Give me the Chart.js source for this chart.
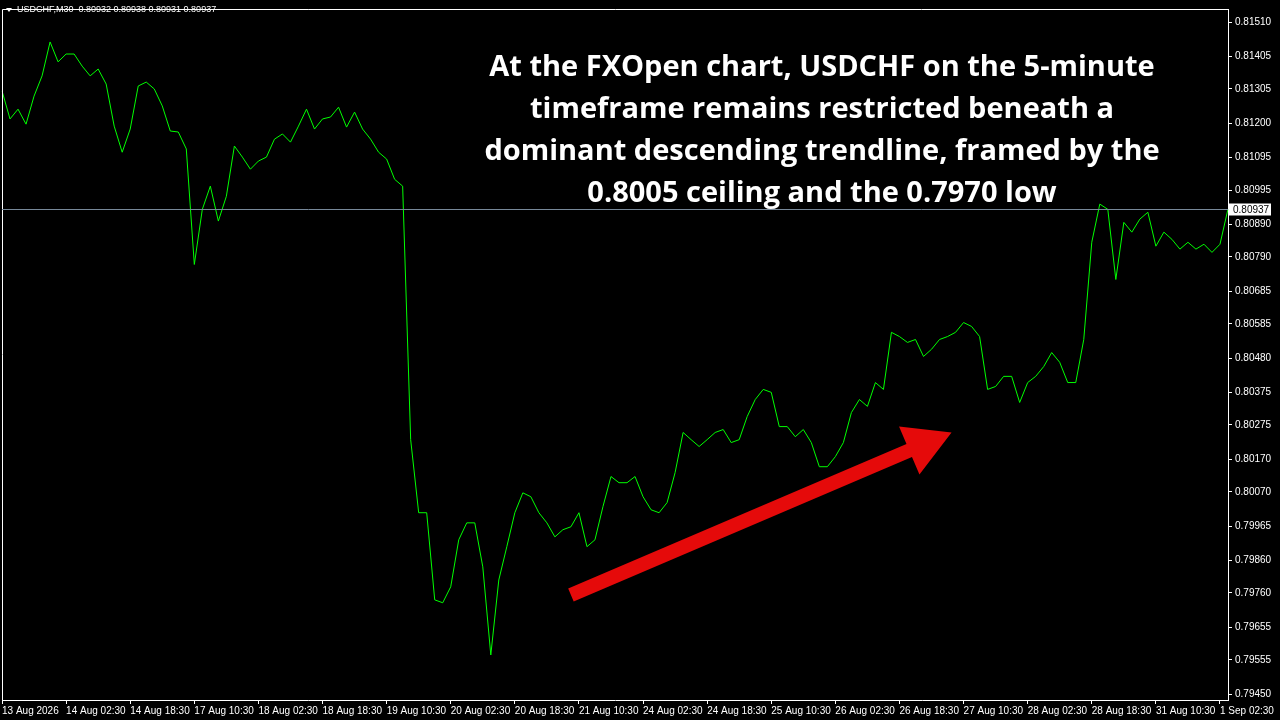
<!DOCTYPE html>
<html>
<head>
<meta charset="utf-8">
<script src="https://cdn.jsdelivr.net/npm/chart.js@4.4.1/dist/chart.umd.min.js"></script>
<style>
	html, body { margin: 0; padding: 0; background: #000; }
	#wrap { width: 1280px; height: 720px; }
</style>
</head>
<body>
<div id="wrap"><canvas id="chartCanvas" width="1280" height="720"></canvas></div>
<script>
// USDCHF M30 close, one value every 4 bars (2 hours)
const closes = [
	0.81299, 0.81213, 0.81243, 0.81197, 0.81283, 0.81345, 0.81449, 0.81388, 0.81412, 0.81412,
	0.81375, 0.81345, 0.81366, 0.81320, 0.81191, 0.81111, 0.81182, 0.81314, 0.81326, 0.81305,
	0.81253, 0.81176, 0.81173, 0.81121, 0.80767, 0.80936, 0.81007, 0.80900, 0.80976, 0.81130,
	0.81096, 0.81059, 0.81084, 0.81096, 0.81151, 0.81167, 0.81142, 0.81191, 0.81243, 0.81182,
	0.81213, 0.81219, 0.81249, 0.81188, 0.81234, 0.81182, 0.81151, 0.81111, 0.81090, 0.81028,
	0.81007, 0.80230, 0.80006, 0.80006, 0.79739, 0.79730, 0.79779, 0.79923, 0.79975, 0.79975,
	0.79840, 0.79570, 0.79800, 0.79902, 0.80006, 0.80067, 0.80055, 0.80006, 0.79975, 0.79932,
	0.79954, 0.79963, 0.80006, 0.79902, 0.79923, 0.80025, 0.80117, 0.80098, 0.80098, 0.80117,
	0.80055, 0.80015, 0.80006, 0.80037, 0.80129, 0.80252, 0.80230, 0.80209, 0.80230, 0.80252,
	0.80261, 0.80221, 0.80230, 0.80301, 0.80353, 0.80384, 0.80375, 0.80270, 0.80270, 0.80239,
	0.80261, 0.80221, 0.80147, 0.80147, 0.80178, 0.80221, 0.80313, 0.80353, 0.80332, 0.80405,
	0.80384, 0.80559, 0.80546, 0.80528, 0.80537, 0.80485, 0.80507, 0.80537, 0.80546, 0.80559,
	0.80589, 0.80577, 0.80546, 0.80384, 0.80393, 0.80424, 0.80424, 0.80344, 0.80405, 0.80424,
	0.80454, 0.80497, 0.80467, 0.80405, 0.80405, 0.80537, 0.80835, 0.80952, 0.80936, 0.80721,
	0.80896, 0.80866, 0.80906, 0.80927, 0.80823, 0.80866, 0.80844, 0.80814, 0.80835, 0.80814,
	0.80829, 0.80804, 0.80829, 0.80937
];

const timeLabels = [
	'13 Aug 2026', '14 Aug 02:30', '14 Aug 18:30', '17 Aug 10:30', '18 Aug 02:30',
	'18 Aug 18:30', '19 Aug 10:30', '20 Aug 02:30', '20 Aug 18:30', '21 Aug 10:30',
	'24 Aug 02:30', '24 Aug 18:30', '25 Aug 10:30', '26 Aug 02:30', '26 Aug 18:30',
	'27 Aug 10:30', '28 Aug 02:30', '28 Aug 18:30', '31 Aug 10:30', '1 Sep 02:30'
];

const priceTicks = [
	0.81510, 0.81405, 0.81305, 0.81200, 0.81095, 0.80995, 0.80890, 0.80790, 0.80685,
	0.80585, 0.80480, 0.80375, 0.80275, 0.80170, 0.80070, 0.79965, 0.79860, 0.79760,
	0.79655, 0.79555, 0.79450
];

const lastPrice = 0.80937;
const header = 'USDCHF,M30  0.80932 0.80938 0.80931 0.80937';
const titleLines = [
	'At the FXOpen chart, USDCHF on the 5-minute',
	'timeframe remains restricted beneath a',
	'dominant descending trendline, framed by the',
	'0.8005 ceiling and the 0.7970 low'
];
// arrow from/to in (bar index, price)
const arrowFrom = [71, 0.79754];
const arrowTo = [118.5, 0.80252];

const barsPerLabel = 8;

const overlay = {
	id: 'overlay',
	beforeDraw(chart) {
		const c = chart.ctx;
		c.save();
		c.fillStyle = '#000';
		c.fillRect(0, 0, chart.width, chart.height);
		c.restore();
	},
	afterDatasetsDraw(chart) {
		const c = chart.ctx;
		const a = chart.chartArea;
		const xs = chart.scales.x, ys = chart.scales.y;
		c.save();
		// frame
		c.strokeStyle = '#fff';
		c.lineWidth = 1;
		c.beginPath();
		c.moveTo(a.left + 0.5, a.bottom);
		c.lineTo(a.left + 0.5, a.top + 0.5);
		c.lineTo(a.right, a.top + 0.5);
		c.stroke();

		// last price line
		const yp = Math.round(ys.getPixelForValue(lastPrice)) + 0.5;
		c.strokeStyle = '#778899';
		c.beginPath();
		c.moveTo(a.left, yp);
		c.lineTo(a.right, yp);
		c.stroke();
		c.fillStyle = '#fff';
		c.fillRect(a.right + 1, yp - 6, 42, 12);
		c.fillStyle = '#000';
		c.font = '10px "Liberation Sans"';
		c.textBaseline = 'middle';
		c.fillText(lastPrice.toFixed(5), a.right + 5, yp + 0.5);

		// header
		c.fillStyle = '#fff';
		c.beginPath();
		c.moveTo(6, 8); c.lineTo(12, 8); c.lineTo(9, 12); c.closePath();
		c.fill();
		c.font = '9px "Liberation Sans"';
		c.textBaseline = 'middle';
		c.fillText(header, 17, 10);

		// arrow
		const x1 = xs.getPixelForValue(arrowFrom[0]), y1 = ys.getPixelForValue(arrowFrom[1]);
		const x2 = xs.getPixelForValue(arrowTo[0]), y2 = ys.getPixelForValue(arrowTo[1]);
		const ang = Math.atan2(y2 - y1, x2 - x1);
		const headLen = 46, headW = 26, shaft = 7;
		const bx = x2 - headLen * Math.cos(ang), by = y2 - headLen * Math.sin(ang);
		const nx = -Math.sin(ang), ny = Math.cos(ang);
		c.fillStyle = '#e50a0a';
		c.beginPath();
		c.moveTo(x1 + nx * shaft, y1 + ny * shaft);
		c.lineTo(bx + nx * shaft, by + ny * shaft);
		c.lineTo(bx + nx * headW, by + ny * headW);
		c.lineTo(x2, y2);
		c.lineTo(bx - nx * headW, by - ny * headW);
		c.lineTo(bx - nx * shaft, by - ny * shaft);
		c.lineTo(x1 - nx * shaft, y1 - ny * shaft);
		c.closePath();
		c.fill();

		// title
		c.fillStyle = '#fff';
		c.font = 'bold 29px "Open Sans"';
		c.textAlign = 'center';
		c.textBaseline = 'middle';
		titleLines.forEach((t, i) => c.fillText(t, 822, 68 + i * 42));
		c.restore();
	}
};

const ctx = document.getElementById('chartCanvas').getContext('2d');
const chart = new Chart(ctx, {
	type: 'line',
	data: {
		labels: closes.map((v, i) => i),
		datasets: [{
			data: closes,
			borderColor: '#00ff00',
			borderWidth: 1,
			pointRadius: 0,
			tension: 0
		}]
	},
	options: {
		responsive: false,
		animation: false,
		layout: { padding: { left: 2, top: 0, right: 0, bottom: 0 } },
		plugins: { legend: { display: false }, tooltip: { enabled: false } },
		scales: {
			x: {
				type: 'category',
				offset: false,
				grid: { display: true, drawOnChartArea: false, color: '#fff', tickLength: 4 },
				border: { color: '#fff' },
				afterFit(s) { s.height = 20; },
				ticks: {
					autoSkip: false,
					maxRotation: 0,
					align: 'start',
					padding: 1,
					color: '#fff',
					font: { family: 'Liberation Sans', size: 10 },
					callback(v, i) {
						return i % barsPerLabel === 0 ? (timeLabels[i / barsPerLabel] || '') : null;
					}
				}
			},
			y: {
				position: 'right',
				min: 0.79432,
				max: 0.81550,
				afterBuildTicks(s) { s.ticks = priceTicks.map(v => ({ value: v })); },
				afterFit(s) { s.width = 52; },
				grid: { display: true, drawOnChartArea: false, color: '#fff', tickLength: 4 },
				border: { color: '#fff' },
				ticks: {
					color: '#fff',
					padding: 3,
					font: { family: 'Liberation Sans', size: 10 },
					callback(v) { return Number(v).toFixed(5); }
				}
			}
		}
	},
	plugins: [overlay]
});
</script>
</body>
</html>
